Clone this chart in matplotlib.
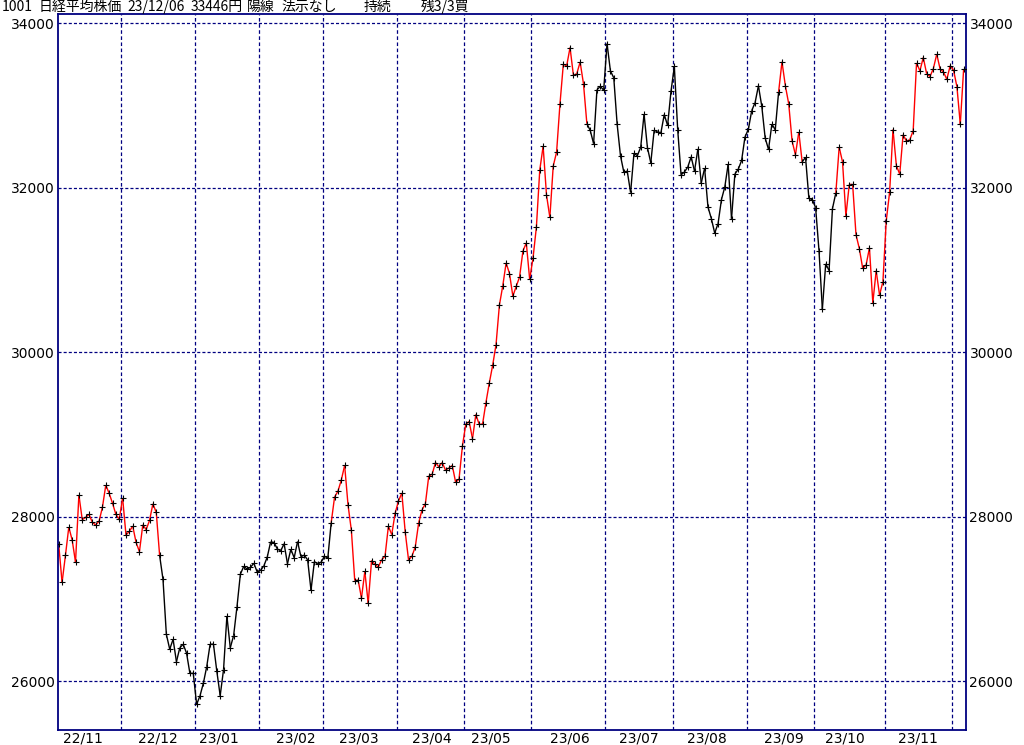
import numpy as np
import matplotlib
matplotlib.use("Agg")
import matplotlib.pyplot as plt
import matplotlib.transforms as mtransforms
from matplotlib.collections import LineCollection

# 日経平均 daily closes (trading days), 2022/11/02 .. 2023/12/06
nov22 = [27663, 27199, 27527, 27872, 27716, 27446, 28263, 27963, 27990, 28028,
         27930, 27899, 27944, 28115, 28383, 28283, 28162, 28027, 27968]
dec22 = [28226, 27777, 27820, 27885, 27686, 27574, 27901, 27842, 27954, 28156,
         28051, 27527, 27237, 26568, 26387, 26507, 26235, 26405, 26447, 26340,
         26093, 26094]
jan23 = [25716, 25820, 25973, 26175, 26446, 26449, 26119, 25822, 26138, 26791,
         26405, 26553, 26906, 27299, 27395, 27362, 27382, 27433, 27327]
feb23 = [27346, 27402, 27509, 27693, 27685, 27606, 27584, 27670, 27427, 27602,
         27501, 27696, 27513, 27531, 27473, 27104, 27453, 27423, 27445]
mar23 = [27516, 27498, 27927, 28237, 28309, 28444, 28623, 28143, 27832, 27222,
         27229, 27010, 27333, 26945, 27466, 27419, 27385, 27476, 27518, 27883,
         27782, 28041]
apr23 = [28188, 28287, 27813, 27472, 27518, 27633, 27923, 28082, 28157, 28493,
         28514, 28658, 28606, 28657, 28564, 28593, 28620, 28416, 28457, 28856]
may23 = [29123, 29157, 28949, 29242, 29122, 29126, 29388, 29626, 29842, 30093,
         30573, 30808, 31086, 30957, 30682, 30801, 30916, 31233, 31328, 30887]
jun23 = [31148, 31524, 32217, 32506, 31913, 31641, 32265, 32434, 33018, 33502,
         33485, 33706, 33370, 33388, 33530, 33264, 32781, 32698, 32538, 33193,
         33234, 33189]
jul23 = [33753, 33422, 33338, 32773, 32388, 32189, 32203, 31943, 32419, 32391,
         32493, 32896, 32490, 32304, 32700, 32682, 32668, 32891, 32759, 33172]
aug23 = [33476, 32707, 32159, 32192, 32254, 32377, 32204, 32473, 32059, 32238,
         31766, 31626, 31450, 31565, 31856, 32010, 32287, 31624, 32169, 32226,
         32333, 32619]
sep23 = [32710, 32939, 33036, 33241, 32991, 32606, 32467, 32776, 32706, 33168,
         33533, 33242, 33023, 32571, 32402, 32678, 32315, 32371, 31872, 31857]
oct23 = [31759, 31237, 30526, 31075, 30994, 31746, 31936, 32494, 32315, 31659,
         32040, 32042, 31430, 31259, 31019, 31062, 31269, 30601, 30991, 30696,
         30858]
nov23 = [31601, 31949, 32708, 32271, 32166, 32646, 32568, 32585, 32695, 33519,
         33424, 33585, 33388, 33354, 33451, 33625, 33447, 33408, 33321, 33486]
dec23 = [33431, 33231, 32775, 33446]

months = [nov22, dec22, jan23, feb23, mar23, apr23, may23, jun23,
          jul23, aug23, sep23, oct23, nov23, dec23]
month_labels = ["22/11", "22/12", "23/01", "23/02", "23/03", "23/04", "23/05",
                "23/06", "23/07", "23/08", "23/09", "23/10", "23/11"]
# where each month label sits (trading-day index)
label_pos = [7.2, 29.5, 47.5, 70.5, 89.3, 110.8, 128.5, 151.9, 172.5,
             192.7, 215.6, 233.6, 255.4]

# holding (buy) periods -> red segments, as [start, end) point index
buy_runs = [(0, 30), (81, 157), (214, 221), (231, 269)]

y_ticks = [26000, 28000, 30000, 32000, 34000]

header = [(1.7, "1001"), (38.3, "日経平均株価"), (127.7, "23/12/06"),
          (190.7, "33446円"), (247, "陽線"), (281.7, "法示なし"),
          (364, "持続"), (421, "残3/3買")]

NAVY = "#000080"
W, H = 1024, 745
plt.rcParams['lines.scale_dashes'] = False
num_font = ['Liberation Sans Narrow', 'DejaVu Sans']
jp_font = ['Liberation Sans Narrow', 'Noto Sans CJK JP', 'DejaVu Sans']

close = np.concatenate([np.array(m, dtype=float) for m in months])
x = np.arange(len(close))
month_days = [len(m) for m in months]
bounds = np.cumsum(month_days)[:-1] - 0.5

fig = plt.figure(figsize=(W / 100, H / 100), dpi=100)
left, right, top, bottom = 58.3, 966, 14.3, 730
ax = fig.add_axes([left / W, 1 - bottom / H, (right - left) / W, (bottom - top) / H])
ax.set_xlim(-0.12, 269.7)
ax.set_ylim(25404, 34111)

# grid
for b in bounds:
    ax.axvline(b, color=NAVY, lw=0.9, dashes=(2.6, 1.8), zorder=1)
for yt in y_ticks:
    ax.axhline(yt, color=NAVY, lw=0.9, dashes=(2.2, 1.5), zorder=1)

# price line, red while holding
seg_colors = ['black'] * (len(close) - 1)
for a, b in buy_runs:
    for k in range(a, b):
        seg_colors[k] = 'red'
pts = np.column_stack([x, close])
segs = np.stack([pts[:-1], pts[1:]], axis=1)
ax.add_collection(LineCollection(segs, colors=seg_colors, linewidths=1.0, zorder=2))
ax.plot(x, close, linestyle='none', marker='+', ms=4, mew=0.8, color='black', zorder=3)

# axes look
for sp in ax.spines.values():
    sp.set_color(NAVY)
    sp.set_linewidth(1.3)
ax.set_yticks(y_ticks)
ax.set_yticklabels([str(v) for v in y_ticks], family=num_font, fontsize=10)
ax.tick_params(axis='y', length=0, pad=2.5, labelleft=True, labelright=True)
ax.set_xticks([])

trans = mtransforms.blended_transform_factory(ax.transData, fig.transFigure)
for p, lab in zip(label_pos, month_labels):
    ax.text(p, 1 - 742 / H, lab, ha='center', va='baseline', transform=trans,
            family=num_font, fontsize=10)

for hx, txt in header:
    fig.text(hx / W, 1 - 10.8 / H, txt, ha='left', va='baseline',
             family=jp_font, fontsize=10)

fig.savefig("out.png", dpi=100)
